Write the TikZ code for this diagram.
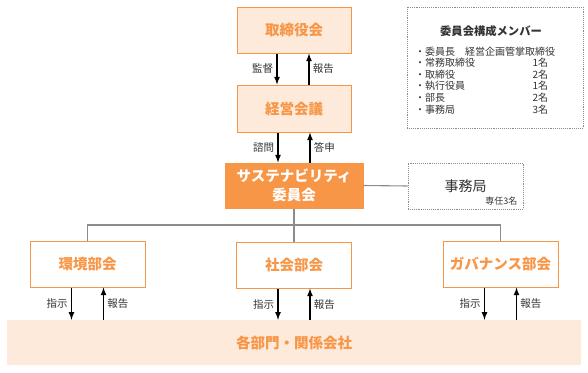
\documentclass[tikz,border=0pt]{standalone}
\usepackage{fontspec}
\setmainfont{Noto Sans CJK JP}
\definecolor{orng}{HTML}{F79646}
\definecolor{pale}{HTML}{FDEADA}
\definecolor{treegray}{HTML}{8C8C8C}
\definecolor{ink}{HTML}{333333}

\begin{document}
\begin{tikzpicture}[x=1pt,y=-1pt,>=latex,
  box/.style={draw=orng,line width=1pt,minimum width=114pt,minimum height=46pt,
    text=orng,font=\fontsize{14.5}{17}\selectfont\bfseries},
  flow/.style={->,line width=1.6pt},
  lbl/.style={text=ink,font=\fontsize{10.5}{12}\selectfont,inner sep=3pt},
  tree/.style={treegray,line width=1.1pt},
  memo/.style={draw=treegray,densely dotted,line width=0.9pt}]
  \useasboundingbox (0,0) rectangle (588,372);
  % Top of the chain.
  \node[box,fill=pale] (bod) at (294,30) {取締役会};
  \node[box,fill=pale,minimum height=47pt] (mgmt) at (294,108.5) {経営会議};
  \node[box,fill=orng,text=white,minimum width=138pt,minimum height=45pt,align=center,
    font=\fontsize{14.5}{19}\selectfont\bfseries] (sust) at (294,185.5) {サステナビリティ\\委員会};
  \draw[flow] ([xshift=-17pt]bod.south) -- node[lbl,left] (sup) {監督} ([xshift=-17pt]mgmt.north);
  \draw[flow] ([xshift=15pt]mgmt.north) -- node[lbl,right] (rep1) {報告} ([xshift=15pt]bod.south);
  \draw[flow] ([xshift=-16pt]mgmt.south) -- node[lbl,left] (ask) {諮問} ([xshift=-16pt]sust.north);
  \draw[flow] ([xshift=16pt]sust.north) -- node[lbl,right] (ans) {答申} ([xshift=16pt]mgmt.south);
  % Secretariat and member list.
  \node[memo,minimum width=115pt,minimum height=46pt,text=ink,
    font=\fontsize{14}{16}\selectfont] (sec) at (465.5,186) {事務局};
  \node[anchor=south east,text=ink,font=\fontsize{9}{10}\selectfont,inner sep=0pt]
    (secnote) at ([xshift=-6pt,yshift=4pt]sec.south east) {専任3名};
  \draw[tree] (sust.east) -- (sec.west);
  \node[memo,minimum width=176pt,minimum height=121pt] (members) at (495,67.5) {};
  \node[text=ink,font=\fontsize{11.3}{13}\selectfont\bfseries] (mtitle) at (491,31.5) {委員会構成メンバー};
  \node[anchor=north west,text=ink,align=left,inner sep=0pt,
    font=\fontsize{10}{11.6}\selectfont] (mlist) at (415,46.5) {%
    ・委員長　経営企画管掌取締役\\
    \makebox[133pt][l]{・常務取締役\hfill 1名}\\
    \makebox[133pt][l]{・取締役\hfill 2名}\\
    \makebox[133pt][l]{・執行役員\hfill 1名}\\
    \makebox[133pt][l]{・部長\hfill 2名}\\
    \makebox[133pt][l]{・事務局\hfill 3名}};
  % Subcommittees.
  \node[box,fill=white,minimum width=115pt] (env) at (87.5,264) {環境部会};
  \node[box,fill=white,minimum width=115pt] (soc) at (294,265) {社会部会};
  \node[box,fill=white,minimum width=115pt] (gov) at (500.5,264) {ガバナンス部会};
  \coordinate (hub) at (294,225);
  \draw[tree] (sust.south) -- (soc.north);
  \draw[tree] (env.north) |- (hub) -| (gov.north);
  % Bottom band.
  \node[fill=pale,minimum width=574pt,minimum height=45pt,text=orng,
    font=\fontsize{14.5}{17}\selectfont\bfseries] (units) at (294,342.5) {各部門・関係会社};
  \foreach \c/\n in {env/a,soc/b,gov/c}{
    \draw[flow] ([xshift=-16pt]\c.south) -- node[lbl,left] (dir\n) {指示} ([xshift=-16pt]\c.south |- units.north);
    \draw[flow] ([xshift=16pt]\c.south |- units.north) -- node[lbl,right] (rep\n) {報告} ([xshift=16pt]\c.south);
  }
\end{tikzpicture}
\end{document}
